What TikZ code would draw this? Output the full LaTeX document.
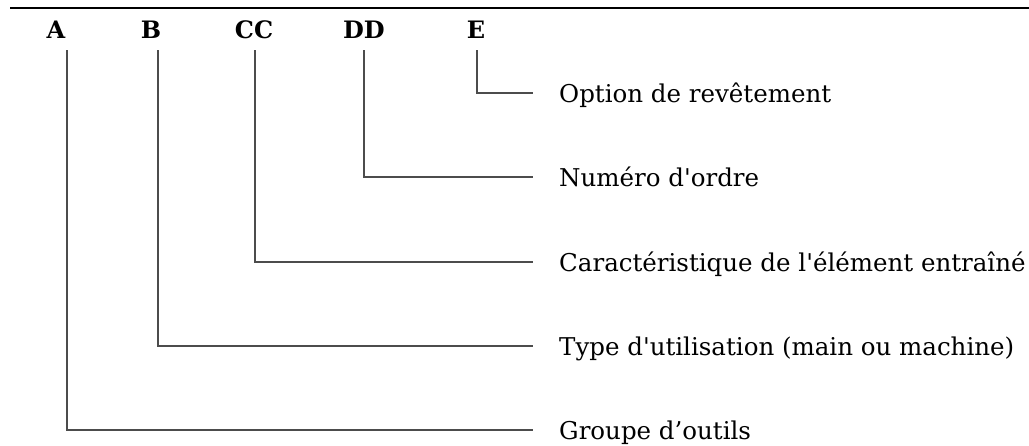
\documentclass[tikz,border=0pt]{standalone}
\usepackage{fontspec}
\setmainfont{DejaVu Serif}
\usepackage{tikz}
\usetikzlibrary{positioning,calc}

\begin{document}
\begin{tikzpicture}[
  x=1pt, y=-1pt,
  key/.style={font=\fontsize{24}{28}\selectfont\bfseries, anchor=base, inner sep=0pt},
  desc/.style={font=\fontsize{24.5}{29}\selectfont, anchor=base west, inner sep=0pt},
  lead/.style={draw=black!70, line width=1.3pt}
]
\useasboundingbox (0,0) rectangle (1029,445);

% Rule
\draw[line width=1.5pt] (10,8) -- (1029,8);

% Letters
\node[key] (kA) at (56,38) {A};
\node[key] (kB) at (151,38) {B};
\node[key] (kC) at (254,38) {CC};
\node[key] (kD) at (364,38) {DD};
\node[key] (kE) at (476,38) {E};

% Meanings
\node[desc] (tE) at (559,102.5) {Option de revêtement};
\node[desc] (tD) at (559,186.5) {Numéro d\textquotesingle ordre};
\node[desc] (tC) at (559,271.5) {Caractéristique de l\textquotesingle élément entraîné};
\node[desc] (tB) at (559,355.5) {Type d\textquotesingle utilisation (main ou machine)};
\node[desc] (tA) at (559,439.5) {Groupe d’outils};

% Leaders
\draw[lead] ([xshift=11pt,yshift=-12pt]kA.base) |- ([xshift=-26pt,yshift=9.5pt]tA.base west);
\draw[lead] ([xshift=7pt,yshift=-12pt]kB.base) |- ([xshift=-26pt,yshift=9.5pt]tB.base west);
\draw[lead] ([xshift=1pt,yshift=-12pt]kC.base) |- ([xshift=-26pt,yshift=9.5pt]tC.base west);
\draw[lead] ([yshift=-12pt]kD.base) |- ([xshift=-26pt,yshift=9.5pt]tD.base west);
\draw[lead] ([xshift=1pt,yshift=-12pt]kE.base) |- ([xshift=-26pt,yshift=9.5pt]tE.base west);
\end{tikzpicture}
\end{document}
